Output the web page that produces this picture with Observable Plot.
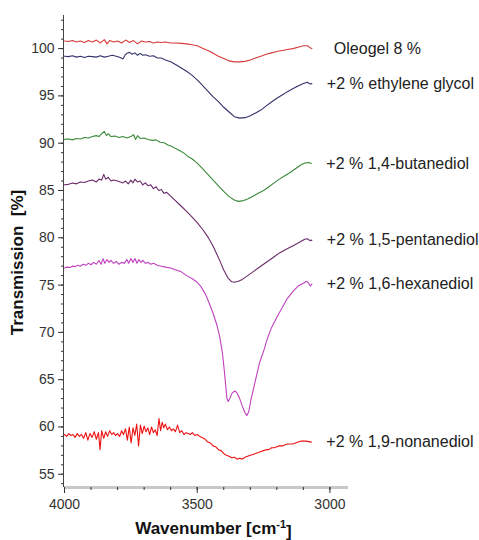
<!DOCTYPE html>
<html><head><meta charset="utf-8">
<script src="https://cdn.jsdelivr.net/npm/d3@7"></script>
<script src="https://cdn.jsdelivr.net/npm/@observablehq/plot@0.6"></script>
<style>body{margin:0;background:#fff}</style>
</head><body><div id="chart"></div>
<script>
const names = ["Oleogel 8 %", "+2 % ethylene glycol", "+2 % 1,4-butanediol", "+2 % 1,5-pentanediol", "+2 % 1,6-hexanediol", "+2 % 1,9-nonanediol"];
const colors = ["#d63a3a", "#33336e", "#3a8a3a", "#6a2a6a", "#c040c0", "#ee1111"];
const yTicks = [55, 60, 65, 70, 75, 80, 85, 90, 95, 100];
const xTicks = [4000, 3500, 3000];
const yTitle = "Transmission\u00a0 [%]";
const xTitle = "Wavenumber [cm-1]";

const oleogel = [[4000,100.8],[3985,100.75],[3970,100.85],[3955,100.7],[3940,100.8],[3925,100.65],[3910,100.85],[3895,100.7],[3880,100.9],[3865,100.6],[3850,100.95],[3840,100.5],[3830,100.85],[3815,100.7],[3800,100.8],[3785,100.6],[3770,100.9],[3755,100.65],[3740,100.85],[3725,100.5],[3710,100.8],[3695,100.7],[3680,100.75],[3665,100.6],[3650,100.7],[3635,100.65],[3620,100.7],[3600,100.6],[3580,100.6],[3560,100.55],[3540,100.5],[3520,100.4],[3500,100.3],[3480,100.05],[3460,99.8],[3440,99.5],[3420,99.2],[3400,98.95],[3380,98.7],[3360,98.6],[3340,98.6],[3320,98.65],[3300,98.8],[3280,99.0],[3260,99.2],[3240,99.4],[3220,99.55],[3200,99.7],[3180,99.8],[3160,99.9],[3140,100.0],[3120,100.15],[3100,100.3],[3085,100.3],[3075,100.1],[3068,100.0]];

const ethyleneGlycol = [[4000,99.2],[3985,99.15],[3970,99.25],[3955,99.1],[3940,99.2],[3925,99.05],[3910,99.2],[3895,99.15],[3880,99.1],[3865,99.25],[3850,99.1],[3835,99.2],[3820,99.3],[3805,99.2],[3790,99.05],[3780,98.9],[3772,99.3],[3765,99.5],[3755,99.6],[3745,99.4],[3735,99.55],[3725,99.3],[3715,99.5],[3705,99.3],[3695,99.35],[3680,99.2],[3665,99.25],[3650,99.0],[3635,99.0],[3620,98.8],[3600,98.6],[3580,98.3],[3560,97.95],[3540,97.6],[3520,97.2],[3500,96.7],[3480,96.1],[3460,95.5],[3440,94.9],[3420,94.4],[3400,93.8],[3380,93.3],[3360,92.8],[3340,92.65],[3320,92.7],[3300,92.9],[3280,93.2],[3260,93.5],[3240,93.95],[3220,94.35],[3200,94.75],[3180,95.1],[3160,95.45],[3140,95.75],[3120,96.05],[3100,96.3],[3085,96.45],[3075,96.25],[3068,96.3]];

const butanediol = [[4000,90.4],[3985,90.45],[3970,90.35],[3955,90.5],[3940,90.45],[3925,90.6],[3910,90.55],[3895,90.7],[3880,90.8],[3870,90.7],[3860,91.0],[3850,91.25],[3842,90.8],[3835,91.0],[3825,90.7],[3810,90.75],[3795,90.6],[3780,90.7],[3765,90.55],[3750,90.7],[3740,90.9],[3732,90.4],[3725,90.8],[3715,90.5],[3700,90.55],[3685,90.4],[3670,90.3],[3655,90.35],[3640,90.1],[3625,90.05],[3610,89.8],[3595,89.65],[3580,89.4],[3565,89.2],[3550,88.95],[3535,88.6],[3520,88.35],[3500,87.9],[3480,87.3],[3460,86.7],[3440,86.1],[3420,85.5],[3400,84.9],[3380,84.35],[3360,84.0],[3345,83.85],[3330,83.9],[3310,84.1],[3290,84.4],[3270,84.7],[3250,85.0],[3230,85.4],[3210,85.8],[3190,86.2],[3170,86.55],[3150,86.9],[3130,87.3],[3110,87.7],[3095,87.9],[3080,87.95],[3070,87.85]];

const pentanediol = [[4000,85.6],[3985,85.65],[3970,85.8],[3955,85.7],[3940,85.9],[3925,85.85],[3910,86.0],[3895,86.1],[3880,85.9],[3870,86.2],[3860,86.1],[3852,86.7],[3845,86.2],[3835,86.4],[3825,86.0],[3815,86.1],[3800,86.0],[3790,85.9],[3780,85.8],[3770,86.0],[3760,85.7],[3750,86.1],[3742,85.8],[3735,86.2],[3725,85.9],[3715,86.0],[3705,85.6],[3695,85.8],[3685,85.5],[3675,85.6],[3665,85.2],[3655,85.4],[3645,85.0],[3635,85.1],[3625,84.7],[3615,84.8],[3600,84.4],[3585,84.0],[3570,83.6],[3555,83.2],[3540,82.8],[3520,82.2],[3500,81.6],[3480,80.9],[3460,80.1],[3440,79.1],[3420,77.9],[3400,76.6],[3385,75.8],[3370,75.35],[3360,75.3],[3345,75.4],[3330,75.6],[3310,76.0],[3290,76.4],[3270,76.8],[3250,77.2],[3230,77.6],[3210,78.0],[3190,78.4],[3170,78.7],[3150,79.0],[3130,79.3],[3110,79.6],[3095,79.85],[3085,79.9],[3075,79.7],[3068,79.75]];

const hexanediol = [[4000,76.8],[3990,76.9],[3980,76.85],[3970,77.0],[3960,76.95],[3950,77.1],[3940,77.0],[3930,77.2],[3920,77.1],[3910,77.3],[3900,77.15],[3890,77.4],[3880,77.2],[3870,77.6],[3862,77.2],[3855,77.8],[3848,77.3],[3840,77.7],[3832,77.4],[3825,77.6],[3815,77.3],[3805,77.5],[3795,77.2],[3785,77.4],[3775,77.3],[3765,77.7],[3758,77.3],[3750,77.8],[3742,77.4],[3735,77.8],[3727,77.3],[3720,77.7],[3712,77.4],[3705,77.6],[3695,77.3],[3685,77.4],[3675,77.2],[3665,77.3],[3650,77.1],[3635,77.0],[3620,76.9],[3600,76.8],[3580,76.6],[3560,76.4],[3540,76.0],[3520,75.7],[3500,75.3],[3485,74.8],[3470,74.1],[3455,73.1],[3440,72.0],[3425,70.7],[3415,69.5],[3405,67.8],[3398,66.0],[3392,64.2],[3388,63.0],[3383,62.7],[3376,63.1],[3368,63.6],[3358,63.8],[3350,63.6],[3340,63.0],[3330,62.2],[3320,61.5],[3313,61.2],[3306,61.6],[3298,62.8],[3290,63.8],[3280,65.0],[3265,66.8],[3250,68.0],[3235,69.4],[3220,70.5],[3200,71.6],[3180,72.6],[3160,73.6],[3140,74.3],[3120,74.9],[3100,75.2],[3088,75.4],[3080,75.2],[3074,74.9],[3068,75.1]];

const nonanediol = [[4000,59.2],[3992,59.0],[3984,59.3],[3976,59.1],[3968,59.2],[3960,58.9],[3952,59.3],[3944,59.0],[3936,59.2],[3928,58.8],[3920,59.4],[3912,58.6],[3904,59.3],[3896,58.9],[3888,59.5],[3880,58.7],[3872,59.4],[3866,57.6],[3860,59.6],[3852,58.8],[3845,59.5],[3838,59.0],[3830,59.6],[3822,59.2],[3815,59.4],[3808,59.1],[3800,59.3],[3792,59.0],[3785,59.6],[3778,59.2],[3770,59.8],[3763,58.6],[3756,60.0],[3749,58.3],[3742,59.9],[3735,59.1],[3728,60.3],[3721,58.0],[3714,60.2],[3707,59.3],[3700,60.1],[3693,59.5],[3686,59.9],[3679,59.2],[3672,60.0],[3665,59.4],[3658,59.7],[3651,59.1],[3644,60.9],[3638,59.6],[3632,60.5],[3626,59.9],[3620,60.3],[3612,59.7],[3605,60.0],[3597,59.6],[3590,59.8],[3582,59.5],[3574,60.2],[3566,59.4],[3558,59.6],[3550,59.2],[3542,59.4],[3534,59.3],[3526,59.2],[3518,59.4],[3510,59.1],[3500,59.2],[3490,59.0],[3480,58.85],[3470,58.7],[3460,58.4],[3450,58.3],[3440,58.0],[3430,57.9],[3420,57.6],[3410,57.5],[3400,57.2],[3390,57.0],[3380,56.9],[3370,56.75],[3360,56.8],[3350,56.6],[3340,56.7],[3330,56.6],[3320,56.8],[3310,56.9],[3300,57.0],[3290,57.1],[3280,57.2],[3270,57.3],[3260,57.4],[3250,57.5],[3240,57.6],[3230,57.6],[3220,57.8],[3210,57.8],[3200,57.9],[3190,58.0],[3180,58.0],[3170,58.1],[3160,58.2],[3150,58.2],[3140,58.2],[3130,58.3],[3120,58.4],[3110,58.5],[3100,58.5],[3090,58.5],[3080,58.45],[3070,58.4]];

const seriesData = [oleogel, ethyleneGlycol, butanediol, pentanediol, hexanediol, nonanediol];
const rows = seriesData.flatMap((s, i) => s.map(([w, t]) => ({w, t, name: names[i]})));
const ends = seriesData.map((s, i) => ({w: s[s.length - 1][0], t: s[s.length - 1][1], name: names[i]}));
const yMinor = d3.range(54, 104);
const xMinor = d3.range(3000, 4001, 100);

const plot = Plot.plot({
  width: 479, height: 540,
  marginLeft: 64, marginRight: 131, marginTop: 15, marginBottom: 53,
  style: {fontFamily: "'Liberation Sans', Arial, sans-serif", color: "#333", background: "#fff", overflow: "visible"},
  x: {domain: [4000, 2930], label: null},
  y: {domain: [53.6, 103.5], label: null},
  color: {domain: names, range: colors},
  marks: [
    Plot.ruleY([53.6], {stroke: "#c8c8c8", strokeWidth: 3}),
    Plot.ruleX([4000], {stroke: "#444", strokeWidth: 1, dx: -1}),
    Plot.axisY({ticks: yMinor, tickSize: 2, text: null, dx: -1}),
    Plot.axisY({ticks: yTicks, tickSize: 5, tickPadding: 4, fontSize: 14, tickFormat: d => String(d), dx: -1}),
    Plot.axisX({ticks: xMinor, tickSize: 3, text: null}),
    Plot.axisX({ticks: xTicks, tickSize: 6, tickPadding: 6, fontSize: 14, tickFormat: d => String(d)}),
    Plot.line(rows, {x: "w", y: "t", z: "name", stroke: "name", strokeWidth: 1.1}),
    Plot.text(ends.slice(1), {x: "w", y: "t", text: "name", dx: 15, textAnchor: "start", fontSize: 16, fill: "#222"}),
    Plot.text(ends.slice(0, 1), {x: "w", y: "t", text: "name", dx: 22, textAnchor: "start", fontSize: 16, fill: "#222"}),
    Plot.text([yTitle], {frameAnchor: "left", dx: -47, dy: 11, rotate: -90, textAnchor: "middle", lineAnchor: "middle", fontSize: 17, fontWeight: "bold", fill: "#111"}),
    Plot.text([xTitle], {frameAnchor: "bottom", dx: 7, dy: 41, textAnchor: "middle", lineAnchor: "middle", fontSize: 17, fontWeight: "bold", fill: "#111"})
  ]
});

d3.select(plot).selectAll("text").filter(function() { return this.textContent === xTitle; }).each(function() {
  const t = d3.select(this);
  t.text(null);
  t.append("tspan").text("Wavenumber [cm");
  t.append("tspan").attr("font-size", 11).attr("dy", "-0.55em").text("-1");
  t.append("tspan").attr("dy", "0.55em").text("]");
});

document.getElementById("chart").appendChild(plot);
</script>
</body></html>
